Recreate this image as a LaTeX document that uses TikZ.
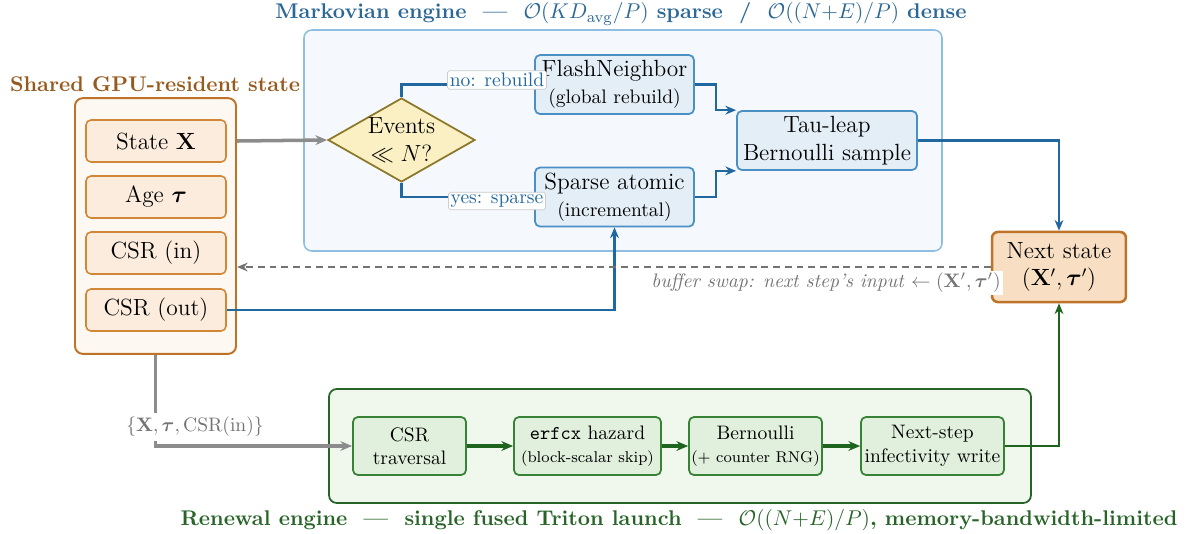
\documentclass[tikz,border=0pt]{standalone}
\usepackage{amsmath,amssymb}
\usetikzlibrary{arrows.meta,shapes.geometric}
\definecolor{mkline}{RGB}{33,104,160}
\definecolor{mktitle}{RGB}{44,104,150}
\definecolor{mkframe}{RGB}{143,190,224}
\definecolor{mkbg}{RGB}{245,249,253}
\definecolor{mkborder}{RGB}{74,144,196}
\definecolor{mkfill}{RGB}{227,238,247}
\definecolor{decborder}{RGB}{140,120,40}
\definecolor{decfill}{RGB}{250,240,195}
\definecolor{sttitle}{RGB}{150,90,30}
\definecolor{stframe}{RGB}{190,115,40}
\definecolor{stbg}{RGB}{253,248,242}
\definecolor{stborder}{RGB}{210,135,55}
\definecolor{stfill}{RGB}{251,236,221}
\definecolor{nxfill}{RGB}{248,223,195}
\definecolor{rnline}{RGB}{30,100,30}
\definecolor{rnframe}{RGB}{40,100,40}
\definecolor{rnbg}{RGB}{240,248,238}
\definecolor{rnborder}{RGB}{55,130,55}
\definecolor{rnfill}{RGB}{224,240,220}
\definecolor{flowgray}{RGB}{140,140,140}
\definecolor{textgray}{RGB}{115,115,115}
\begin{document}
\begin{tikzpicture}[x=0.018cm,y=-0.018cm,
  every node/.style={align=center,inner sep=1pt},
  title/.style={font=\fontsize{10.9}{13}\selectfont\bfseries,inner sep=0pt},
  statebox/.style={draw=stborder,fill=stfill,rounded corners=2.5pt,line width=0.8pt,
    minimum width=71.7pt,minimum height=21.5pt,font=\large},
  mkbox/.style={draw=mkborder,fill=mkfill,rounded corners=2.5pt,line width=0.9pt,
    minimum height=30.2pt,inner sep=0pt,font=\large},
  rnbox/.style={draw=rnborder,fill=rnfill,rounded corners=2.5pt,line width=0.9pt,
    minimum height=29.7pt,inner sep=0pt},
  branch/.style={draw=black!20,fill=white,rounded corners=1pt,line width=0.4pt,
    text=mkline,inner sep=1.2pt},
  mkarrow/.style={-{Stealth[length=5.5pt,width=4.5pt]},mkline,line width=1.2pt},
  rnarrow/.style={-{Stealth[length=6pt,width=5pt]},rnline,line width=1.7pt},
  grayarrow/.style={-{Stealth[length=6pt,width=5pt]},flowgray,line width=1.8pt}]
\useasboundingbox (0,0) rectangle (1186,533);

\draw[mkframe,fill=mkbg,rounded corners=4pt,line width=0.8pt] (304,30) rectangle (942,251);
\draw[rnframe,fill=rnbg,rounded corners=4pt,line width=0.9pt] (329,389) rectangle (1031,503);

\node[title,text=mktitle] (mktitle) at (621,14)
  {Markovian engine\ \ ---\ \ $\mathcal{O}(KD_{\mathrm{avg}}/P)$ sparse\ \ /\ \ $\mathcal{O}((N{+}E)/P)$ dense};
\node[title,text=sttitle] (sttitle) at (155,84) {Shared GPU-resident state};
\node[title,text=rnframe] (rntitle) at (679,520)
  {Renewal engine\ \ ---\ \ single fused Triton launch\ \ ---\ \ $\mathcal{O}((N{+}E)/P)$, memory-bandwidth-limited};

\node[draw=stframe,fill=stbg,rounded corners=4pt,line width=1pt,
  minimum width=82.5pt,minimum height=131pt] (shared) at (155.5,226) {};
\node[statebox] (sx) at (156,141) {State $\mathbf{X}$};
\node[statebox] (sage) at (156,197) {Age $\boldsymbol{\tau}$};
\node[statebox] (cin) at (156,253) {CSR (in)};
\node[statebox] (cout) at (156,310) {CSR (out)};

\node[diamond,draw=decborder,fill=decfill,line width=0.9pt,aspect=1.75,inner sep=-1pt,
  minimum width=75.3pt,minimum height=43pt,font=\large] (dec) at (401.5,140) {Events\\$\ll N$?};
\node[mkbox,minimum width=81.4pt] (flash) at (614.5,84.5)
  {FlashNeighbor\\{\normalsize (global rebuild)}};
\node[mkbox,minimum width=81.4pt] (sparse) at (614.5,197)
  {Sparse atomic\\{\normalsize (incremental)}};
\node[mkbox,minimum width=92.2pt] (tau) at (827,140.5) {Tau-leap\\Bernoulli sample};

\node[draw=stframe,fill=nxfill,rounded corners=3pt,line width=1.3pt,
  minimum width=68.6pt,minimum height=35.9pt,font=\large] (next) at (1059,267)
  {Next state\\$(\mathbf{X}',\boldsymbol{\tau}')$};

\node[rnbox,minimum width=57.9pt] (csr) at (409.5,446) {CSR\\traversal};
\node[rnbox,minimum width=75.3pt] (haz) at (587.5,446)
  {\texttt{erfcx} hazard\\{\footnotesize (block-scalar skip)}};
\node[rnbox,minimum width=68.1pt] (bern) at (755.5,446)
  {Bernoulli\\{\footnotesize (+ counter RNG)}};
\node[rnbox,minimum width=73.2pt] (write) at (932.5,446) {Next-step\\infectivity write};

\draw[grayarrow] (sx.east -| shared.east) -- (dec.west);
\draw[mkline,line width=1.2pt] (dec.north) |- (flash.west);
\draw[mkline,line width=1.2pt] (dec.south) |- (sparse.west);
\node[branch] (nolbl) at (497,80) {no: rebuild};
\node[branch] (yeslbl) at (497,201) {yes: sparse};
\draw[mkarrow] (flash.east) -- ++(10.8pt,0) |- (tau.north west);
\draw[mkarrow] (sparse.east) -- ++(10.8pt,0) |- (tau.south west);
\draw[mkarrow] (tau.east) -| (next.north);
\draw[mkarrow] (cout.east) -| (sparse.south);

\draw[-{Stealth[length=5.5pt,width=4.5pt]},textgray,line width=0.8pt,dash pattern=on 3.5pt off 2.5pt]
  (next.west) -- (next.west -| shared.east);
\node[fill=white,text=textgray,font=\normalsize] (swaplbl) at (826,283)
  {\textit{buffer swap: next step's input} $\leftarrow(\mathbf{X}',\boldsymbol{\tau}')$};

\draw[grayarrow] (shared.south) |- (csr.west);
\node[fill=white,text=textgray,inner sep=2pt] (inlbl) at (195,427)
  {$\{\mathbf{X},\boldsymbol{\tau},\mathrm{CSR}(\mathrm{in})\}$};

\draw[rnarrow] (csr) -- (haz);
\draw[rnarrow] (haz) -- (bern);
\draw[rnarrow] (bern) -- (write);
\draw[-{Stealth[length=5.5pt,width=4.5pt]},rnline,line width=1.2pt] (write.east) -| (next.south);
\end{tikzpicture}
\end{document}
